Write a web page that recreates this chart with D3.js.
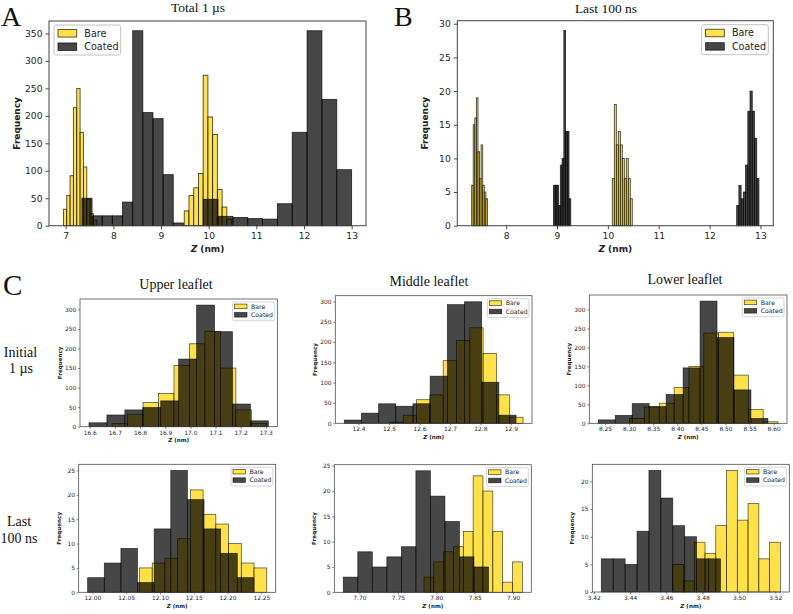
<!DOCTYPE html>
<html><head><meta charset="utf-8">
<script src="https://cdn.jsdelivr.net/npm/d3@7"></script>
<style>body{margin:0;background:#fff} svg{display:block}</style>
</head><body>
<svg id="c" width="793" height="614"></svg>
<script>
// ================= DATA =================
const seriesNames = ["Bare", "Coated"];

// Panel A — Total 1 µs
const aBareRange1 = [6.952, 7.652];
const aBareCounts1 = [30, 55, 91, 215, 250, 170, 107, 48, 22, 10];
const aBareRange2 = [9.487, 10.48];
const aBareCounts2 = [27, 55, 69, 95, 274, 198, 166, 66, 34, 12];
const aCoatedRange1 = [7.34, 9.47];
const aCoatedCounts1 = [50, 18, 18, 18, 43, 355, 206, 195, 93, 5];
const aCoatedRange2 = [9.885, 12.998];
const aCoatedCounts2 = [48, 17, 15, 13, 12, 40, 170, 355, 230, 102];
const aXTicks = [7, 8, 9, 10, 11, 12, 13];
const aYTicks = [0, 50, 100, 150, 200, 250, 300, 350];

// Panel B — Last 100 ns
const bBareRange1 = [7.322, 7.632];
const bBareCounts1 = [6, 15, 16, 19, 11, 7, 12, 6, 5, 4];
const bBareRange2 = [10.088, 10.48];
const bBareCounts2 = [7, 18, 12, 14, 12, 10, 7, 10, 7, 4];
const bCoatedRange1 = [8.93, 9.27];
const bCoatedCounts1 = [6, 6, 6, 3, 9, 10, 29, 14, 14, 4];
const bCoatedRange2 = [12.532, 12.97];
const bCoatedCounts2 = [3, 6, 4, 5, 9, 17, 20, 17, 13, 7];
const bXTicks = [8, 9, 10, 11, 12, 13];
const bYTicks = [0, 5, 10, 15, 20, 25, 30];

// Panel C — Initial 1 µs
const uiBareRange = [16.689, 17.304];
const uiBareCounts = [8, 32, 62, 85, 157, 212, 244, 150, 43, 8];
const uiCoatedRange = [16.597, 17.31];
const uiCoatedCounts = [10, 30, 43, 49, 66, 173, 311, 243, 58, 15];
const uiXTicks = [16.6, 16.7, 16.8, 16.9, 17.0, 17.1, 17.2, 17.3];

const miBareRange = [12.503, 12.94];
const miBareCounts = [3, 20, 58, 70, 154, 204, 235, 172, 70, 15];
const miCoatedRange = [12.353, 12.917];
const miCoatedCounts = [8, 25, 48, 42, 48, 116, 292, 299, 101, 20];
const miXTicks = [12.4, 12.5, 12.6, 12.7, 12.8, 12.9];

const liBareRange = [8.301, 8.609];
const liBareCounts = [13, 43, 53, 94, 150, 238, 240, 127, 36, 4];
const liCoatedRange = [8.236, 8.588];
const liCoatedCounts = [9, 21, 52, 44, 76, 146, 322, 226, 88, 13];
const liXTicks = [8.25, 8.30, 8.35, 8.40, 8.45, 8.50, 8.55, 8.60];

const initYTicks = [0, 50, 100, 150, 200, 250, 300];

// Panel C — Last 100 ns
const ulBareRange = [12.0697, 12.258];
const ulBareCounts = [5, 6, 7, 11, 21, 16, 14, 10, 6, 5];
const ulCoatedRange = [11.993, 12.239];
const ulCoatedCounts = [3, 6, 9, 2, 13, 25, 19, 13, 8, 3];
const ulXTicks = [12.00, 12.05, 12.10, 12.15, 12.20, 12.25];
const ulYTicks = [0, 5, 10, 15, 20, 25];

const mlBareRange = [7.784, 7.912];
const mlBareCounts = [3, 6, 8, 9, 12, 23, 20, 12, 2, 6];
const mlCoatedRange = [7.679, 7.868];
const mlCoatedCounts = [3, 8, 5, 7, 9, 24, 19, 14, 7, 5];
const mlXTicks = [7.70, 7.75, 7.80, 7.85, 7.90];
const mlYTicks = [0, 5, 10, 15, 20, 25];

const llBareRange = [3.4635, 3.5228];
const llBareCounts = [5, 2, 9, 7, 12, 22, 13, 16, 6, 9];
const llCoatedRange = [3.4241, 3.4898];
const llCoatedCounts = [6, 6, 5, 11, 22, 17, 12, 10, 6, 6];
const llXTicks = [3.42, 3.44, 3.46, 3.48, 3.50, 3.52];
const llYTicks = [0, 5, 10, 15, 20];

// ================= DRAW =================
const svg = d3.select("#c");
const BARE_FILL = "#FFD700", COATED_FILL = "#000000", ALPHA = 0.72;
const SANS = "'DejaVu Sans', sans-serif", SERIF = "'Liberation Serif', 'Times New Roman', serif";

function bins(range, counts) {
  const w = (range[1] - range[0]) / counts.length;
  return counts.map((c, i) => ({x0: range[0] + i * w, x1: range[0] + (i + 1) * w, c}));
}

function panel(cfg) {
  const [L, R, T, B] = cfg.box;
  const big = cfg.big;
  const bareBins = cfg.bare.flatMap(([r, c]) => bins(r, c));
  const coatedBins = cfg.coated.flatMap(([r, c]) => bins(r, c));
  const all = bareBins.concat(coatedBins);
  const xmin = d3.min(all, d => d.x0), xmax = d3.max(all, d => d.x1);
  const pad = (xmax - xmin) * 0.05;
  const ymax = d3.max(all, d => d.c) * 1.05;
  const x = d3.scaleLinear().domain([xmin - pad, xmax + pad]).range([L, R]);
  const y = d3.scaleLinear().domain([0, ymax]).range([B, T]);
  const g = svg.append("g");
  const sw = big ? 0.9 : 0.7;

  const drawBars = (data, fill) => {
    g.append("g").selectAll("rect").data(data).enter().append("rect")
      .attr("x", d => x(d.x0)).attr("width", d => x(d.x1) - x(d.x0))
      .attr("y", d => y(d.c)).attr("height", d => y(0) - y(d.c))
      .attr("fill", fill).attr("fill-opacity", ALPHA)
      .attr("stroke", "#000").attr("stroke-opacity", ALPHA).attr("stroke-width", sw);
  };
  drawBars(bareBins, BARE_FILL);
  drawBars(coatedBins, COATED_FILL);

  const tickFont = big ? 9.2 : 5.9;
  const tl = big ? 3.5 : 2;
  const tp = big ? 3 : 1.8;
  const xa = d3.axisBottom(x).tickValues(cfg.xTicks).tickFormat(d3.format(cfg.xfmt)).tickSize(tl).tickPadding(tp);
  const ya = d3.axisLeft(y).tickValues(cfg.yTicks).tickFormat(d3.format("d")).tickSize(tl).tickPadding(tp);
  const gx = g.append("g").attr("transform", `translate(0,${B})`).call(xa);
  const gy = g.append("g").attr("transform", `translate(${L},0)`).call(ya);
  [gx, gy].forEach(a => {
    a.select(".domain").remove();
    a.selectAll("line").attr("stroke", "#333").attr("stroke-width", big ? 0.9 : 0.6);
    a.selectAll("text").attr("font-family", SANS).attr("font-size", tickFont).attr("fill", "#262626");
  });
  g.append("rect").attr("x", L).attr("y", T).attr("width", R - L).attr("height", B - T)
    .attr("fill", "none").attr("stroke", "#444").attr("stroke-width", big ? 1 : 0.75);

  // axis labels
  const lf = big ? 9 : 5.6;
  const xl = g.append("text").attr("x", (L + R) / 2).attr("y", B + (big ? 26 : 15.5))
    .attr("text-anchor", "middle").attr("font-family", SANS).attr("font-size", lf)
    .attr("font-weight", "bold").attr("fill", "#222");
  xl.append("tspan").attr("font-style", "italic").text("Z");
  xl.append("tspan").text(" (nm)");
  g.append("text").attr("transform", `translate(${L - (big ? 29 : 18)},${(T + B) / 2}) rotate(-90)`)
    .attr("text-anchor", "middle").attr("font-family", SANS).attr("font-size", lf)
    .attr("font-weight", "bold").attr("fill", "#222").text("Frequency");

  // legend
  const lw = big ? 66.7 : 41.7, lh = big ? 30 : 18.7;
  const lx = cfg.legendLeft ? L + 5 : R - (big ? 5 : 3) - lw;
  const ly = T + (big ? 4 : 3);
  const lg = g.append("g").attr("transform", `translate(${lx},${ly})`);
  lg.append("rect").attr("width", lw).attr("height", lh).attr("rx", big ? 2 : 1.2)
    .attr("fill", "#fff").attr("fill-opacity", 0.85).attr("stroke", "#bbb").attr("stroke-width", big ? 0.9 : 0.6);
  const fills = [BARE_FILL, COATED_FILL];
  seriesNames.forEach((name, i) => {
    const cy = big ? 8.3 + i * 13.4 : 4.4 + i * 8.4;
    const pw = big ? 18.7 : 12.4, ph = big ? 7.5 : 4.6;
    lg.append("rect").attr("x", big ? 4 : 2).attr("y", cy - ph / 2).attr("width", pw).attr("height", ph)
      .attr("fill", fills[i]).attr("fill-opacity", ALPHA).attr("stroke", "#000").attr("stroke-opacity", ALPHA)
      .attr("stroke-width", sw);
    lg.append("text").attr("x", big ? 30.3 : 18.4).attr("y", cy).attr("dy", "0.36em")
      .attr("font-family", SANS).attr("font-size", big ? 9.6 : 6.2).attr("fill", "#262626").text(name);
  });
}

panel({box: [49, 366, 21, 225.7], big: true, legendLeft: true,
  bare: [[aBareRange1, aBareCounts1], [aBareRange2, aBareCounts2]],
  coated: [[aCoatedRange1, aCoatedCounts1], [aCoatedRange2, aCoatedCounts2]],
  xTicks: aXTicks, yTicks: aYTicks, xfmt: "d"});
panel({box: [457.3, 773.3, 20.7, 225.7], big: true,
  bare: [[bBareRange1, bBareCounts1], [bBareRange2, bBareCounts2]],
  coated: [[bCoatedRange1, bCoatedCounts1], [bCoatedRange2, bCoatedCounts2]],
  xTicks: bXTicks, yTicks: bYTicks, xfmt: "d"});
panel({box: [80, 277.3, 299, 426.7], bare: [[uiBareRange, uiBareCounts]], coated: [[uiCoatedRange, uiCoatedCounts]],
  xTicks: uiXTicks, yTicks: initYTicks, xfmt: ".1f"});
panel({box: [335.3, 532, 295.7, 423.3], bare: [[miBareRange, miBareCounts]], coated: [[miCoatedRange, miCoatedCounts]],
  xTicks: miXTicks, yTicks: initYTicks, xfmt: ".1f"});
panel({box: [589.3, 787, 295, 423.3], bare: [[liBareRange, liBareCounts]], coated: [[liCoatedRange, liCoatedCounts]],
  xTicks: liXTicks, yTicks: initYTicks, xfmt: ".2f"});
panel({box: [78.7, 275.7, 464.3, 592.3], bare: [[ulBareRange, ulBareCounts]], coated: [[ulCoatedRange, ulCoatedCounts]],
  xTicks: ulXTicks, yTicks: ulYTicks, xfmt: ".2f"});
panel({box: [334.3, 531.3, 464.7, 592.3], bare: [[mlBareRange, mlBareCounts]], coated: [[mlCoatedRange, mlCoatedCounts]],
  xTicks: mlXTicks, yTicks: mlYTicks, xfmt: ".2f"});
panel({box: [592.3, 789.3, 464.3, 592], bare: [[llBareRange, llBareCounts]], coated: [[llCoatedRange, llCoatedCounts]],
  xTicks: llXTicks, yTicks: llYTicks, xfmt: ".2f"});

// ---- titles & labels ----
const txt = (x, y, s, size, anchor = "middle") =>
  svg.append("text").attr("x", x).attr("y", y).attr("text-anchor", anchor)
    .attr("font-family", SERIF).attr("font-size", size).attr("fill", "#111").text(s);
txt(1, 26, "A", 28, "start");
txt(394, 26, "B", 28, "start");
txt(3, 295, "C", 29, "start");
txt(198, 12, "Total 1 \u00b5s", 13.5);
txt(606, 12.5, "Last 100 ns", 13.5);
txt(176, 289, "Upper leaflet", 14);
txt(429, 285.7, "Middle leaflet", 14);
txt(685, 284, "Lower leaflet", 14);
txt(20.5, 356.5, "Initial", 14);
txt(21, 373, "1 \u00b5s", 14);
txt(19, 526, "Last", 14);
txt(19, 542.5, "100 ns", 14);
</script>
</body></html>
